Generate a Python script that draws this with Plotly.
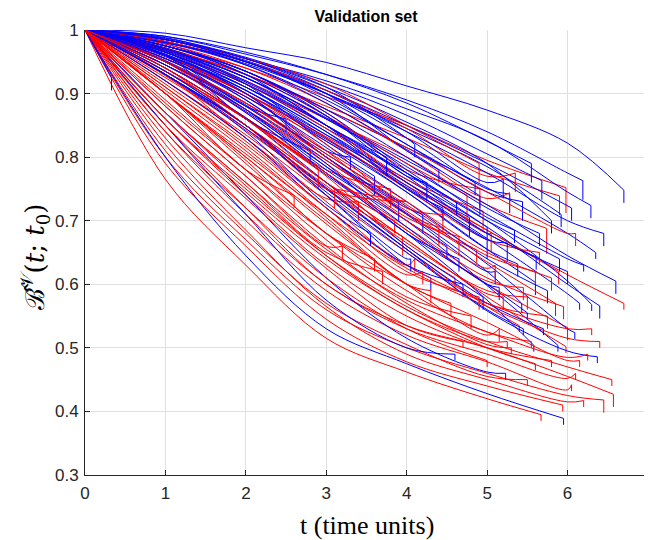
import plotly.graph_objects as go

# knot times at which curve values were read (t = 0 value is 1 for every curve)
knot_t = [0, 1, 2, 3, 4, 5, 6]

# blue curves: end time, end value, final step drop, values at t = 1, 2, 3, ...
blue_end_t = [6.70, 6.19, 6.29, 5.68, 5.92, 6.35, 6.60, 6.40, 6.30, 6.15, 5.60, 5.43, 6.09, 5.88,
              5.58, 6.37, 5.23, 5.95, 5.28, 5.44, 4.91, 4.62, 5.34, 5.61, 4.78, 5.38, 0.33, 5.80,
              4.40, 4.20, 4.50, 5.10, 3.90, 4.95, 5.70, 3.60, 4.30, 5.50, 4.10, 2.80, 5.00, 4.70,
              4.60, 5.55, 6.05, 5.20, 4.85, 5.65, 5.00, 4.45, 5.90, 5.25, 3.75, 4.25, 6.00, 5.75,
              4.65, 5.15, 3.30, 2.50, 5.45, 4.05, 3.55, 6.20, 6.45]
blue_end_y = [0.728, 0.733, 0.704, 0.733, 0.690, 0.640, 0.585, 0.546, 0.558, 0.560, 0.583, 0.555,
              0.514, 0.494, 0.494, 0.476, 0.450, 0.379, 0.712, 0.700, 0.709, 0.709, 0.665, 0.623,
              0.675, 0.612, 0.905, 0.680, 0.760, 0.680, 0.640, 0.600, 0.700, 0.560, 0.520, 0.740,
              0.590, 0.545, 0.800, 0.790, 0.640, 0.580, 0.480, 0.760, 0.700, 0.735, 0.740, 0.660,
              0.670, 0.700, 0.620, 0.635, 0.770, 0.730, 0.600, 0.570, 0.620, 0.575, 0.780, 0.840,
              0.520, 0.620, 0.660, 0.620, 0.660]
blue_drop = [0.02, 0.03, 0.02, 0.03, 0.02, 0.01, 0.02, 0.02, 0.01, 0.01, 0.02, 0.015, 0.01, 0.01,
             0.01, 0.01, 0.01, 0.01, 0.03, 0.03, 0.03, 0.02, 0.02, 0.02, 0.03, 0.02, 0.02, 0.02,
             0.02, 0.03, 0.02, 0.02, 0.03, 0.02, 0.01, 0.03, 0.02, 0.01, 0.02, 0.02, 0.03, 0.02,
             0.01, 0.03, 0.02, 0.03, 0.02, 0.02, 0.02, 0.02, 0.02, 0.03, 0.03, 0.03, 0.02, 0.02,
             0.02, 0.02, 0.02, 0.02, 0.01, 0.02, 0.02, 0.01, 0.02]
blue_vals = [
    [0.995, 0.972, 0.949, 0.912, 0.874, 0.822],
    [0.990, 0.962, 0.930, 0.890, 0.840, 0.775],
    [0.988, 0.955, 0.920, 0.876, 0.826, 0.745],
    [0.987, 0.957, 0.915, 0.866, 0.805],
    [0.982, 0.947, 0.900, 0.845, 0.785],
    [0.978, 0.935, 0.875, 0.815, 0.752, 0.680],
    [0.972, 0.925, 0.862, 0.795, 0.725, 0.645],
    [0.962, 0.905, 0.835, 0.765, 0.690, 0.600],
    [0.967, 0.915, 0.845, 0.775, 0.700, 0.605],
    [0.958, 0.900, 0.828, 0.752, 0.672, 0.585],
    [0.962, 0.905, 0.825, 0.745, 0.655],
    [0.950, 0.882, 0.795, 0.712, 0.620],
    [0.952, 0.885, 0.805, 0.722, 0.632, 0.530],
    [0.945, 0.872, 0.785, 0.700, 0.598],
    [0.940, 0.862, 0.772, 0.680, 0.575],
    [0.935, 0.850, 0.752, 0.655, 0.558, 0.495],
    [0.870, 0.740, 0.610, 0.515, 0.462],
    [0.800, 0.645, 0.530, 0.475, 0.428],
    [0.985, 0.950, 0.900, 0.830, 0.750],
    [0.980, 0.945, 0.890, 0.820, 0.745],
    [0.982, 0.945, 0.885, 0.812],
    [0.975, 0.935, 0.870, 0.780],
    [0.970, 0.925, 0.860, 0.790, 0.705],
    [0.968, 0.918, 0.850, 0.770, 0.680],
    [0.970, 0.920, 0.850, 0.760],
    [0.960, 0.905, 0.830, 0.745, 0.655],
    [],
    [0.985, 0.955, 0.910, 0.855, 0.790],
    [0.980, 0.950, 0.900, 0.810],
    [0.960, 0.890, 0.800, 0.720],
    [0.950, 0.875, 0.780, 0.700],
    [0.955, 0.890, 0.800, 0.710, 0.620],
    [0.960, 0.900, 0.800],
    [0.940, 0.860, 0.760, 0.660],
    [0.930, 0.850, 0.750, 0.655, 0.570],
    [0.970, 0.915, 0.820],
    [0.930, 0.850, 0.740, 0.630],
    [0.945, 0.870, 0.775, 0.680, 0.600],
    [0.985, 0.955, 0.910, 0.830],
    [0.960, 0.860],
    [0.965, 0.910, 0.840, 0.750],
    [0.920, 0.830, 0.720, 0.630],
    [0.850, 0.710, 0.575, 0.500],
    [0.990, 0.965, 0.930, 0.885, 0.825],
    [0.985, 0.952, 0.905, 0.850, 0.790],
    [0.985, 0.955, 0.905, 0.840, 0.760],
    [0.980, 0.950, 0.895, 0.820],
    [0.975, 0.935, 0.875, 0.800, 0.720],
    [0.975, 0.930, 0.865, 0.775],
    [0.970, 0.925, 0.850, 0.750],
    [0.965, 0.915, 0.850, 0.775, 0.700],
    [0.965, 0.910, 0.835, 0.755, 0.670],
    [0.975, 0.930, 0.850],
    [0.975, 0.935, 0.865, 0.770],
    [0.960, 0.910, 0.840, 0.760, 0.680],
    [0.955, 0.895, 0.815, 0.730, 0.640],
    [0.950, 0.880, 0.790, 0.680],
    [0.945, 0.875, 0.785, 0.690, 0.600],
    [0.965, 0.900, 0.810],
    [0.960, 0.880],
    [0.930, 0.845, 0.745, 0.650, 0.560],
    [0.935, 0.850, 0.740, 0.640],
    [0.930, 0.840, 0.725],
    [0.970, 0.925, 0.860, 0.785, 0.710, 0.640],
    [0.985, 0.950, 0.900, 0.840, 0.775, 0.700],
]

# red curves: end time, end value, final step drop, values at t = 1, 2, 3, ...
red_end_t = [5.98, 5.90, 6.70, 5.74, 5.89, 6.00, 5.98, 5.40, 6.57, 6.45, 6.20, 5.94, 5.67, 6.05,
             5.50, 6.10, 5.80, 6.25, 4.91, 5.28, 4.87, 5.60, 4.40, 3.80, 4.10, 5.20, 5.75, 4.60,
             3.40, 5.05, 4.75, 5.45, 3.95, 4.55, 5.15, 5.55, 4.80, 5.30, 3.20, 2.90, 5.85, 6.30,
             4.30, 3.70, 5.00, 4.90, 5.35, 6.10, 4.95, 5.65, 4.45, 3.85, 5.10, 4.65, 5.50, 4.20,
             5.95, 3.60, 4.90, 5.25, 6.40, 5.60, 6.15, 4.70, 3.10, 2.60, 5.80, 6.55]
red_end_y = [0.712, 0.709, 0.560, 0.648, 0.600, 0.512, 0.492, 0.525, 0.407, 0.398, 0.407, 0.400,
             0.385, 0.432, 0.440, 0.450, 0.470, 0.480, 0.720, 0.714, 0.634, 0.600, 0.660, 0.720,
             0.620, 0.560, 0.530, 0.590, 0.700, 0.650, 0.700, 0.575, 0.645, 0.550, 0.510, 0.500,
             0.530, 0.490, 0.640, 0.750, 0.550, 0.520, 0.570, 0.600, 0.470, 0.760, 0.745, 0.660,
             0.685, 0.630, 0.680, 0.680, 0.610, 0.645, 0.560, 0.600, 0.545, 0.620, 0.560, 0.500,
             0.500, 0.465, 0.470, 0.500, 0.720, 0.720, 0.590, 0.440]
red_drop = [0.04, 0.03, 0.01, 0.04, 0.02, 0.02, 0.01, 0.01, 0.02, 0.02, 0.01, 0.01, 0.01, 0.01,
            0.01, 0.01, 0.01, 0.01, 0.03, 0.03, 0.02, 0.02, 0.03, 0.03, 0.02, 0.02, 0.02, 0.02,
            0.03, 0.03, 0.04, 0.02, 0.03, 0.02, 0.02, 0.01, 0.02, 0.01, 0.02, 0.03, 0.02, 0.01,
            0.02, 0.02, 0.01, 0.03, 0.03, 0.02, 0.03, 0.02, 0.03, 0.02, 0.02, 0.03, 0.02, 0.02,
            0.02, 0.02, 0.02, 0.01, 0.01, 0.01, 0.01, 0.01, 0.03, 0.02, 0.02, 0.01]
red_vals = [
    [0.975, 0.940, 0.895, 0.850, 0.795],
    [0.972, 0.930, 0.880, 0.830, 0.775],
    [0.955, 0.895, 0.825, 0.755, 0.685, 0.615],
    [0.968, 0.920, 0.860, 0.800, 0.725],
    [0.960, 0.900, 0.832, 0.760, 0.685],
    [0.940, 0.862, 0.775, 0.685, 0.600],
    [0.930, 0.850, 0.760, 0.670, 0.580],
    [0.928, 0.842, 0.750, 0.655, 0.565],
    [0.850, 0.720, 0.600, 0.535, 0.500, 0.455],
    [0.800, 0.670, 0.560, 0.500, 0.460, 0.425],
    [0.820, 0.685, 0.565, 0.490, 0.450, 0.415],
    [0.790, 0.660, 0.545, 0.478, 0.440],
    [0.765, 0.630, 0.515, 0.462, 0.420],
    [0.830, 0.700, 0.590, 0.520, 0.478, 0.434],
    [0.810, 0.680, 0.570, 0.505, 0.455],
    [0.840, 0.710, 0.600, 0.530, 0.490, 0.452],
    [0.860, 0.740, 0.630, 0.550, 0.500],
    [0.870, 0.760, 0.655, 0.575, 0.525, 0.485],
    [0.975, 0.935, 0.870, 0.780],
    [0.978, 0.940, 0.885, 0.810, 0.735],
    [0.955, 0.895, 0.810, 0.710],
    [0.950, 0.885, 0.805, 0.725, 0.645],
    [0.950, 0.880, 0.800, 0.710],
    [0.950, 0.870, 0.780],
    [0.920, 0.830, 0.730, 0.630],
    [0.930, 0.850, 0.760, 0.670, 0.585],
    [0.920, 0.835, 0.740, 0.650, 0.570],
    [0.935, 0.860, 0.770, 0.660],
    [0.930, 0.830, 0.735],
    [0.965, 0.915, 0.845, 0.760, 0.680],
    [0.970, 0.930, 0.865, 0.790],
    [0.935, 0.860, 0.775, 0.685, 0.605],
    [0.930, 0.850, 0.750],
    [0.905, 0.810, 0.705, 0.600],
    [0.900, 0.800, 0.695, 0.600, 0.520],
    [0.900, 0.790, 0.680, 0.590, 0.525],
    [0.890, 0.780, 0.670, 0.580],
    [0.880, 0.770, 0.660, 0.570, 0.505],
    [0.880, 0.770, 0.660],
    [0.950, 0.860],
    [0.945, 0.875, 0.795, 0.715, 0.635],
    [0.910, 0.820, 0.720, 0.630, 0.570, 0.530],
    [0.900, 0.800, 0.700, 0.600],
    [0.870, 0.760, 0.650],
    [0.840, 0.720, 0.610, 0.530],
    [0.985, 0.955, 0.915, 0.850],
    [0.982, 0.950, 0.905, 0.845, 0.770],
    [0.970, 0.930, 0.875, 0.815, 0.745, 0.680],
    [0.965, 0.915, 0.850, 0.765],
    [0.955, 0.900, 0.830, 0.750, 0.670],
    [0.960, 0.900, 0.820, 0.720],
    [0.940, 0.860, 0.760],
    [0.945, 0.875, 0.790, 0.700, 0.625],
    [0.950, 0.885, 0.800, 0.705],
    [0.925, 0.845, 0.755, 0.665, 0.590],
    [0.910, 0.815, 0.710, 0.615],
    [0.935, 0.860, 0.775, 0.690, 0.610],
    [0.900, 0.795, 0.680],
    [0.915, 0.825, 0.720, 0.620],
    [0.870, 0.755, 0.645, 0.560, 0.510],
    [0.900, 0.805, 0.710, 0.625, 0.565, 0.515],
    [0.860, 0.745, 0.640, 0.560, 0.500],
    [0.885, 0.780, 0.680, 0.600, 0.540, 0.480],
    [0.850, 0.735, 0.625, 0.535],
    [0.940, 0.850, 0.750, 0.730],
    [0.900, 0.780],
    [0.950, 0.885, 0.810, 0.730, 0.650],
    [0.860, 0.750, 0.645, 0.565, 0.510, 0.470],
]

x_tick_vals = [0, 1, 2, 3, 4, 5, 6, 7]
x_tick_text = ["0", "1", "2", "3", "4", "5", "6", "7"]
y_tick_vals = [0.3, 0.4, 0.5, 0.6, 0.7, 0.8, 0.9, 1.0]
y_tick_text = ["0.3", "0.4", "0.5", "0.6", "0.7", "0.8", "0.9", "1"]


def body_xy(end_t, end_y, drop, vals):
    xs = list(knot_t[: len(vals) + 1]) + [end_t]
    ys = [1.0] + list(vals) + [end_y + drop]
    return xs, ys


fig = go.Figure()
curves = []
for i in range(len(blue_vals)):
    curves.append(("#0000ff", blue_end_t[i], blue_end_y[i], blue_drop[i], blue_vals[i]))
for i in range(len(red_vals)):
    curves.append(("#ff0000", red_end_t[i], red_end_y[i], red_drop[i], red_vals[i]))

# interleave drawing order of the two colours
nb, nr = len(blue_vals), len(red_vals)
order = []
for k in range(max(nb, nr)):
    if k < nr:
        order.append(nb + k)
    if k < nb:
        order.append(k)

for idx in order:
    color, et, ey, dr, vals = curves[idx]
    xs, ys = body_xy(et, ey, dr, vals)
    fig.add_trace(go.Scatter(x=xs, y=ys, mode="lines",
                             line=dict(color=color, width=1, shape="spline", smoothing=1.0),
                             showlegend=False, hoverinfo="skip"))
    fig.add_trace(go.Scatter(x=[et, et], y=[ey + dr, ey], mode="lines",
                             line=dict(color=color, width=1),
                             showlegend=False, hoverinfo="skip"))

# the page body adds an 8 px offset, so margins are shifted by 8 px
W, H = 652, 532
axis_font = dict(family="Liberation Sans, Arial, sans-serif", size=17, color="#262626")

# the last x tick label sits on the plot's right edge, where Plotly drops it,
# so it is written as a text at that tick's axis position
edge_labels = [
    dict(text=x_tick_text[-1], xref="x", yref="paper", x=x_tick_vals[-1], y=0, yshift=-18,
         xanchor="center", yanchor="middle", showarrow=False, font=axis_font)
]

fig.update_layout(
    width=W, height=H,
    margin=dict(l=77, r=12, t=22, b=65, autoexpand=False),
    paper_bgcolor="white", plot_bgcolor="white",
    title=dict(text="<b>Validation set</b>", x=358 / W, xanchor="center", y=1 - 8 / H,
               yanchor="middle", automargin=False,
               font=dict(family="Liberation Sans, Arial, sans-serif", size=16, color="black")),
    xaxis=dict(range=[0, 7], tickvals=x_tick_vals, ticktext=x_tick_text[:-1] + [""],
               showgrid=True, gridcolor="#e0e0e0",
               gridwidth=1, zeroline=False, showline=True, linecolor="#262626", linewidth=1,
               automargin=False, ticks="inside", ticklen=5, tickcolor="#262626", tickfont=axis_font,
               ticklabelstandoff=3),
    yaxis=dict(range=[0.3, 1.0], tickvals=y_tick_vals, ticktext=y_tick_text, showgrid=True,
               gridcolor="#e0e0e0", gridwidth=1, zeroline=False, showline=True, linecolor="#262626",
               linewidth=1, ticks="inside", ticklen=5, tickcolor="#262626", tickfont=axis_font,
               automargin=False, ticklabelstandoff=2),
    annotations=[
        dict(text="t (time units)", xref="paper", yref="paper", x=0.5, y=-0.113,
             xanchor="center", yanchor="middle", showarrow=False,
             font=dict(family="Liberation Serif, Times New Roman, serif", size=26, color="black")),
        dict(text="ℬ̂<sup>𝒱</sup>(<i>t</i>; <i>t</i><sub>0</sub>)",
             xref="paper", yref="paper", x=-0.088, y=0.49, textangle=-90,
             xanchor="center", yanchor="middle", showarrow=False,
             font=dict(family="DejaVu Serif, Liberation Serif, serif", size=26, color="black")),
    ] + edge_labels,
)

fig.write_html("out.html")
